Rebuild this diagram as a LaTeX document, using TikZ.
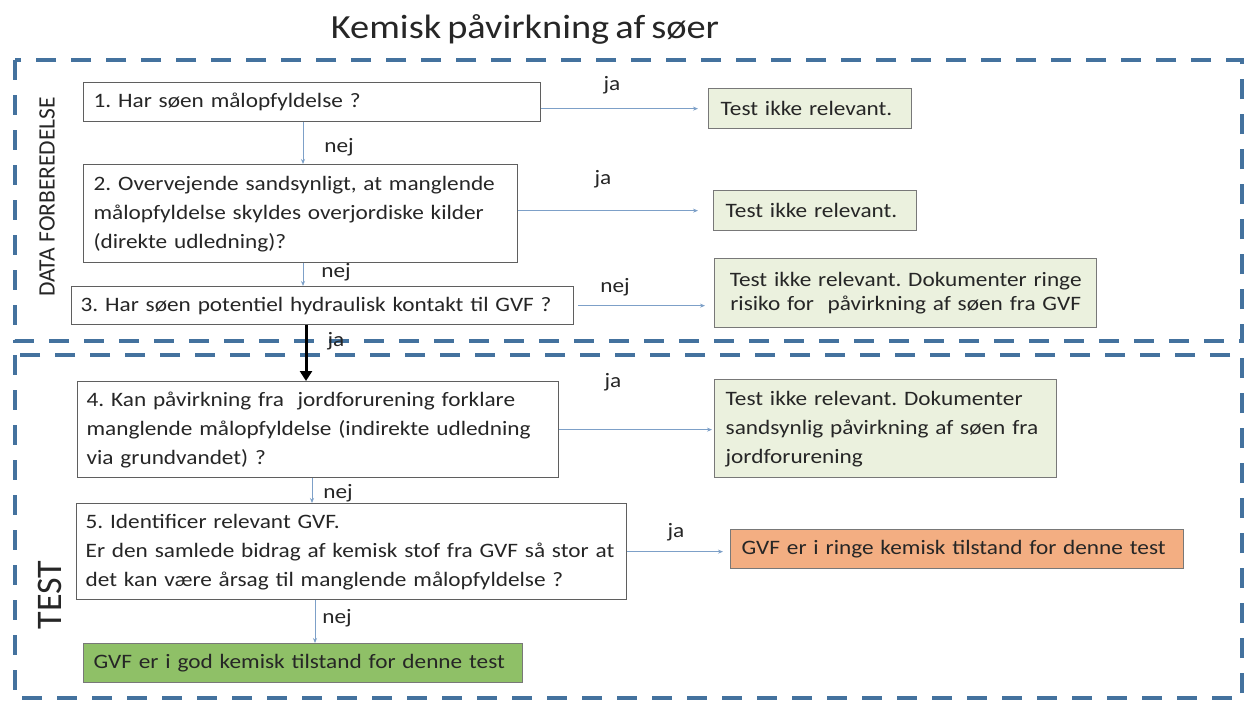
\documentclass[tikz,border=0pt]{standalone}
\usepackage{fontspec}
\setmainfont{Carlito}[FakeStretch=1.135, WordSpace=0.7]
\newfontfamily\plainfont{Carlito}
\frenchspacing
\usetikzlibrary{arrows.meta}
\definecolor{dashblue}{RGB}{68,114,158}
\definecolor{txt}{RGB}{38,38,38}
\definecolor{lgreen}{RGB}{235,241,222}
\definecolor{dgreen}{RGB}{143,192,103}
\definecolor{orng}{RGB}{243,174,130}
\definecolor{connc}{RGB}{125,160,200}
\definecolor{bord}{RGB}{95,95,95}
\definecolor{gbord}{RGB}{120,120,120}
\begin{document}
\begin{tikzpicture}[x=1pt,y=-1pt,
  body/.style={font=\fontsize{20.5}{29}\selectfont, text=txt},
  qbox/.style={draw=bord, line width=1.3pt, fill=white, anchor=north west, align=left, inner xsep=10pt, inner ysep=0pt, body},
  gbox/.style={qbox, fill=lgreen, draw=gbord},
  conn/.style={draw=connc, line width=1pt, -{Stealth[length=5pt,width=4pt]}},
  lbl/.style={body, inner sep=0pt},
  frame/.style={draw=dashblue, line width=4pt, dash pattern=on 20pt off 15pt},
  sidelbl/.style={rotate=90, text=txt, inner sep=0pt},
]
\useasboundingbox (0,0) rectangle (1252,702);
\fill[white] (0,0) rectangle (1252,702);

% frames
\draw[frame] (15,60) rectangle (1242,341);
\draw[frame] (15,355) rectangle (1242,698);

% title and side labels
\node[font=\fontsize{33.8}{38}\selectfont, text=txt] (title) at (525,29) {Kemisk påvirkning af søer};
\node[sidelbl, font=\plainfont\fontsize{23.5}{26}\selectfont] (datalbl) at (47,197) {DATA FORBEREDELSE};
\node[sidelbl, font=\plainfont\fontsize{36}{40}\selectfont] (testlbl) at (50,595) {TEST};

% question boxes
\node[qbox, minimum width=457pt, minimum height=39pt, text width=437pt] (b1) at (83,82) {\mbox{1. Har søen målopfyldelse ?}};
\node[qbox, minimum width=434pt, minimum height=98pt, text width=414pt] (b2) at (83,164) {\mbox{2. Overvejende sandsynligt, at manglende}\\\mbox{målopfyldelse skyldes overjordiske kilder}\\\mbox{(direkte udledning)?}};
\node[qbox, minimum width=502pt, minimum height=38pt, text width=484pt, inner xsep=9pt] (b3) at (71,286) {\mbox{3. Har søen potentiel hydraulisk kontakt til GVF ?}};
\node[qbox, minimum width=481pt, minimum height=96pt, text width=463pt, inner xsep=9pt] (b4) at (77,381) {\mbox{4. Kan påvirkning fra\ \ jordforurening forklare}\\\mbox{manglende målopfyldelse (indirekte udledning}\\\mbox{via grundvandet) ?}};
\node[qbox, minimum width=550pt, minimum height=96pt, text width=532pt, inner xsep=9pt] (b5) at (76,503) {\mbox{5. Identificer relevant GVF.}\\\mbox{Er den samlede bidrag af kemisk stof fra GVF så stor at}\\\mbox{det kan være årsag til manglende målopfyldelse ?}};

% result boxes
\node[gbox, minimum width=203pt, minimum height=40pt, text width=179pt, inner xsep=12pt] (g1) at (708,88) {\mbox{Test ikke relevant.}};
\node[gbox, minimum width=203pt, minimum height=40pt, text width=179pt, inner xsep=12pt] (g2) at (713,190) {\mbox{Test ikke relevant.}};
\node[gbox, minimum width=382pt, minimum height=69pt, text width=362pt, align=center, font=\fontsize{20.5}{24}\selectfont] (g3) at (714,258) {\mbox{Test ikke relevant. Dokumenter ringe}\\\mbox{risiko for\ \ påvirkning af søen fra GVF}};
\node[gbox, minimum width=342pt, minimum height=98pt, text width=320pt, inner xsep=11pt] (g4) at (714,379) {\mbox{Test ikke relevant. Dokumenter}\\\mbox{sandsynlig påvirkning af søen fra}\\\mbox{jordforurening}};
\node[gbox, fill=orng, minimum width=453pt, minimum height=39pt, text width=431pt, inner xsep=11pt] (ob) at (730,529) {\mbox{GVF er i ringe kemisk tilstand for denne test}};
\node[gbox, fill=dgreen, minimum width=439pt, minimum height=39pt, text width=419pt] (gf) at (83,643) {\mbox{GVF er i god kemisk tilstand for denne test}};

% vertical connector x positions
\coordinate (v1) at (303,0);
\coordinate (v3) at (306,0);
\coordinate (v4) at (312,0);
\coordinate (v5) at (315,0);

% connectors
\draw[conn, shorten >=10pt] (b1.east |- g1.west) -- (g1.west);
\draw[conn, shorten >=15pt] (b2.east |- g2.west) -- (g2.west);
\draw[conn, shorten >=9pt, shorten <=4pt] (b3.east) -- (b3.east -| g3.west);
\draw[conn, shorten >=2pt] (b4.east) -- (b4.east -| g4.west);
\draw[conn, shorten >=7pt] (b5.east) -- (b5.east -| ob.west);
\draw[conn] (b1.south -| v1) -- (b2.north -| v1);
\draw[conn] (b2.south -| v1) -- (b3.north -| v1);
\draw[black, line width=3pt, -{Triangle[length=10pt,width=12pt]}] (b3.south -| v3) -- (b4.north -| v3);
\draw[conn] (b4.south -| v4) -- (b5.north -| v4);
\draw[conn] (b5.south -| v5) -- (gf.north -| v5);

% labels
\node[lbl] (l1) at (612,85) {ja};
\node[lbl] (l2) at (603,179) {ja};
\node[lbl] (l3) at (615,287) {nej};
\node[lbl] (l4) at (613,382) {ja};
\node[lbl] (l5) at (676,532) {ja};
\node[lbl] (n1) at (339,147) {nej};
\node[lbl] (n2) at (336,272) {nej};
\node[lbl] (n3) at (336,341) {ja};
\node[lbl] (n4) at (338,493) {nej};
\node[lbl] (n5) at (337,618) {nej};
\end{tikzpicture}
\end{document}
